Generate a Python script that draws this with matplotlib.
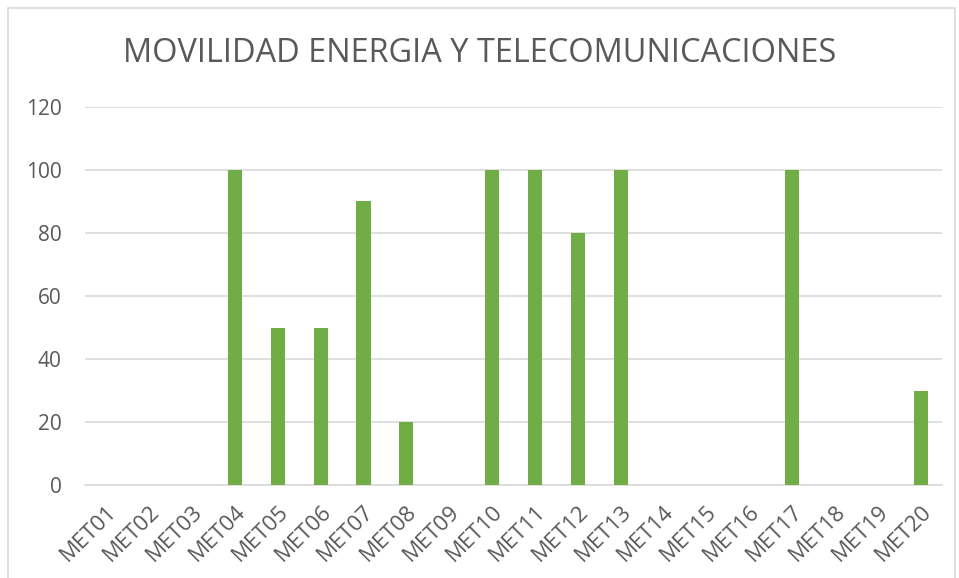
import numpy as np
import matplotlib.pyplot as plt
from matplotlib.patches import Rectangle

plt.rcParams['font.family'] = ['Open Sans', 'DejaVu Sans']

categories = ['MET%02d' % i for i in range(1, 21)]
values = [0, 0, 0, 100, 50, 50, 90, 20, 0, 100, 100, 80, 100, 0, 0, 0, 100, 0, 0, 30]
yticks = [0, 20, 40, 60, 80, 100, 120]

fig = plt.figure(figsize=(9.59, 5.78), dpi=100)
# chart border
fig.patches.append(Rectangle((8 / 959, -0.01), 947 / 959, 1 - 8 / 578 + 0.01,
                             transform=fig.transFigure, fill=False,
                             edgecolor='#d9d9d9', linewidth=1.2))

ax = fig.add_axes([85 / 959, 1 - 485 / 578, (942 - 85) / 959, (485 - 107) / 578])
x = np.arange(len(categories))
ax.bar(x, values, width=0.33, color='#70ad47', zorder=3)
ax.set_xlim(-0.5, len(categories) - 0.5)
ax.set_ylim(0, 120)
ax.set_yticks(yticks)
ax.set_xticks(x)
ax.set_xticklabels(categories, rotation=45, ha='right', rotation_mode='anchor')
ax.grid(axis='y', color='#d9d9d9', linewidth=1.2, zorder=0)
for s in ['top', 'right', 'left']:
    ax.spines[s].set_visible(False)
ax.spines['bottom'].set_color('#d9d9d9')
ax.spines['bottom'].set_linewidth(1.2)
ax.tick_params(axis='both', length=0, colors='#595959')
ax.tick_params(axis='x', labelsize=16, pad=12)
ax.tick_params(axis='y', labelsize=15, pad=17)

fig.text(0.5, 1 - 54 / 578, 'MOVILIDAD ENERGIA Y TELECOMUNICACIONES',
         ha='center', va='center', fontsize=23.4, color='#595959')

fig.savefig('out.png', dpi=100)
